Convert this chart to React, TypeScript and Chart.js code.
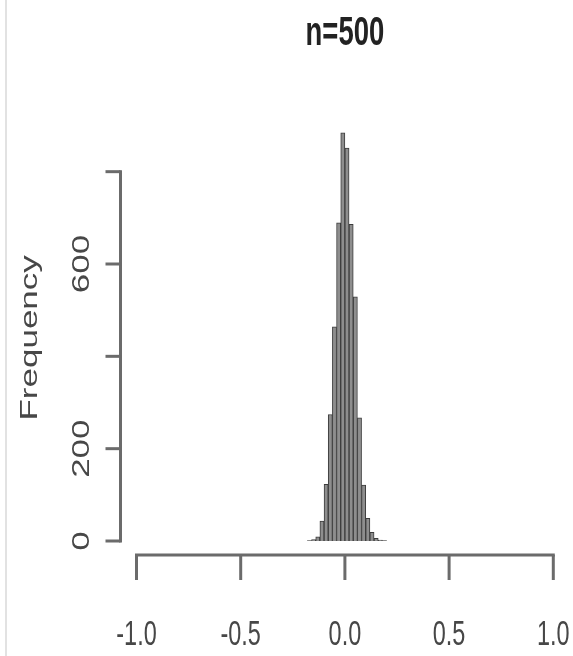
import React, { useEffect, useRef } from "react";
import { Chart, registerables } from "chart.js";

Chart.register(...registerables);

// Histogram of the simulated estimates (bin width 0.02)
const binStarts = [
  -0.18, -0.16, -0.14, -0.12, -0.1, -0.08, -0.06, -0.04, -0.02,
  0.0, 0.02, 0.04, 0.06, 0.08, 0.1, 0.12, 0.14, 0.16, 0.18,
];
const binWidth = 0.02;
const counts = [
  1, 3, 9, 43, 123, 274, 464, 689, 884,
  851, 686, 529, 267, 121, 49, 19, 6, 2, 1,
];

const titleText = "n=500";
const yAxisTitle = "Frequency";
const xTicks = [-1, -0.5, 0, 0.5, 1];
const xTickLabels = ["-1.0", "-0.5", "0.0", "0.5", "1.0"];
const yTicks = [0, 200, 400, 600, 800];
const yTickLabels = ["0", "200", "", "600", ""];

const FONT = '"Liberation Sans", Arial, sans-serif';
const SQUEEZE = 0.67;

function drawText(
  ctx: CanvasRenderingContext2D,
  text: string,
  x: number,
  y: number,
  size: number,
  color: string,
  opts: { bold?: boolean; rotate?: boolean; align?: CanvasTextAlign } = {}
) {
  ctx.save();
  ctx.translate(x, y);
  ctx.scale(SQUEEZE, 1);
  if (opts.rotate) ctx.rotate(-Math.PI / 2);
  ctx.font = `${opts.bold ? "bold " : ""}${size}px ${FONT}`;
  ctx.fillStyle = color;
  ctx.textAlign = opts.align ?? "center";
  ctx.textBaseline = "alphabetic";
  ctx.fillText(text, 0, 0);
  ctx.restore();
}

// Base-graphics style axes: detached lines, outward ticks, rotated y labels
const baseAxes = {
  id: "baseAxes",
  afterDraw(chart: any) {
    const ctx: CanvasRenderingContext2D = chart.ctx;
    const xs = chart.scales.x;
    const ys = chart.scales.y;
    const area = chart.chartArea;
    const axisColor = "#6b6b6b";
    const textColor = "#474747";

    ctx.save();
    // faint frame line on the left edge
    ctx.strokeStyle = "#e2e2e2";
    ctx.lineWidth = 2;
    ctx.beginPath();
    ctx.moveTo(6, 0);
    ctx.lineTo(6, chart.height);
    ctx.stroke();

    ctx.strokeStyle = axisColor;
    ctx.lineWidth = 3;
    ctx.lineCap = "butt";

    // x axis
    const xAxisY = ys.getPixelForValue(0) + 14;
    ctx.beginPath();
    ctx.moveTo(xs.getPixelForValue(xTicks[0]) - 1.5, xAxisY);
    ctx.lineTo(xs.getPixelForValue(xTicks[xTicks.length - 1]) + 1.5, xAxisY);
    ctx.stroke();
    xTicks.forEach((v, i) => {
      const px = xs.getPixelForValue(v);
      ctx.beginPath();
      ctx.moveTo(px, xAxisY);
      ctx.lineTo(px, xAxisY + 25);
      ctx.stroke();
      drawText(ctx, xTickLabels[i], px, xAxisY + 90, 35, textColor);
    });

    // y axis
    const yAxisX = area.left - 16;
    ctx.beginPath();
    ctx.moveTo(yAxisX, ys.getPixelForValue(yTicks[0]) + 1.5);
    ctx.lineTo(yAxisX, ys.getPixelForValue(yTicks[yTicks.length - 1]) - 1.5);
    ctx.stroke();
    yTicks.forEach((v, i) => {
      const py = ys.getPixelForValue(v);
      ctx.beginPath();
      ctx.moveTo(yAxisX, py);
      ctx.lineTo(yAxisX - 15, py);
      ctx.stroke();
      if (yTickLabels[i]) {
        drawText(ctx, yTickLabels[i], yAxisX - 32, py, 35, textColor, { rotate: true });
      }
    });

    // axis title and main title
    drawText(ctx, yAxisTitle, 37, ys.getPixelForValue(440), 35, textColor, { rotate: true });
    drawText(ctx, titleText, (area.left + area.right) / 2, 45, 41, "#222222", { bold: true });
    ctx.restore();
  },
};

export default function App() {
  const canvasRef = useRef<HTMLCanvasElement | null>(null);

  useEffect(() => {
    if (!canvasRef.current) return;
    const chart = new Chart(canvasRef.current, {
      type: "bar",
      data: {
        datasets: [
          {
            label: yAxisTitle,
            data: binStarts.map((s, i) => ({ x: s + binWidth / 2, y: counts[i] })),
            backgroundColor: "#8e8e8e",
            borderColor: "#3c3c3c",
            borderWidth: 1,
            barPercentage: 1,
            categoryPercentage: 1,
          },
        ],
      },
      options: {
        animation: false,
        responsive: true,
        maintainAspectRatio: false,
        layout: { padding: { left: 136.5, right: 19.7, top: 125.5, bottom: 115 } },
        plugins: {
          legend: { display: false },
          title: { display: false },
          tooltip: { enabled: false },
        },
        scales: {
          x: { type: "linear", min: -1, max: 1, offset: false, display: false },
          y: { type: "linear", min: 0, max: 900, display: false },
        },
      },
      plugins: [baseAxes],
    });
    return () => chart.destroy();
  }, []);

  return (
    <div
      style={{
        position: "absolute",
        left: 0,
        top: 0,
        width: 573,
        height: 656,
        background: "#ffffff",
      }}
    >
      <canvas ref={canvasRef} />
    </div>
  );
}
